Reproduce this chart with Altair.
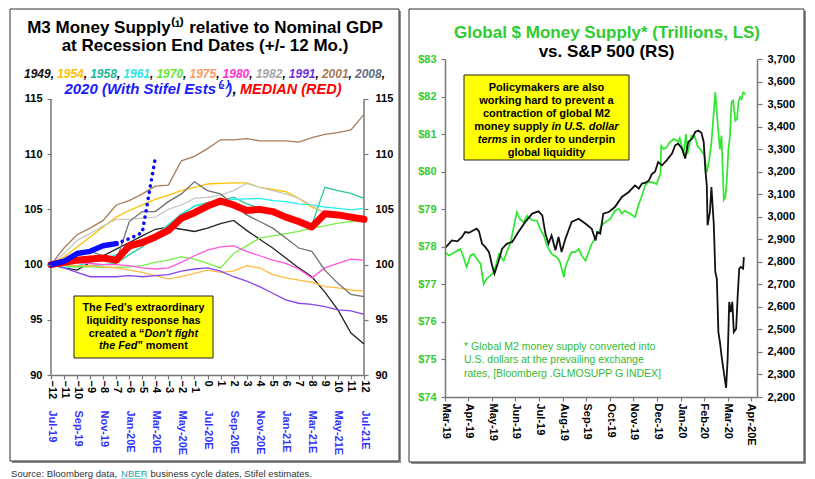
import json
import altair as alt
import pandas as pd

FONT = "Liberation Sans"

# ---------------- Left panel data ----------------
months = list(range(-12, 13))
years = ["1949", "1954", "1958", "1961", "1970", "1975", "1980", "1982", "1991", "2001", "2008"]
year_label_colors = ["#111111", "#ffc000", "#1fb896", "#2ee6e6", "#66e633", "#ff9966",
                     "#ff33cc", "#a6a6a6", "#7030e0", "#a57a55", "#5f6f85"]
line_colors = ["#222222", "#ffc000", "#2cc7a0", "#22eeee", "#77ee44", "#ffbb44",
               "#ff55dd", "#c8c8c8", "#8844ee", "#a87c5a", "#707070"]

v1949 = [100, 99.7, 99.5, 100.2, 100.8, 101.4, 102.0, 102.6, 103.2, 103.4, 103.2, 103.0, 103.3,
         103.7, 104.0, 103.1, 102.3, 101.5, 100.6, 99.7, 98.9, 97.5, 95.9, 93.8, 92.8]
v1954 = [100, 100.7, 101.6, 102.5, 103.4, 104.3, 104.9, 105.4, 105.9, 106.3, 106.7, 107.0, 107.3,
         107.35, 107.4, 107.4, 107.0, 106.8, 106.6, 106.0, 105.2, 104.7, 104.5, 104.4, 104.3]
v1958 = [100, 99.9, 99.8, 99.9, 100.0, 100.1, 100.9, 101.6, 102.6, 103.6, 104.5, 105.3, 105.6,
         105.8, 106.1, 105.5, 105.1, 104.8, 104.4, 104.0, 103.6, 107.0, 106.7, 106.45, 106.0]
v1961 = [100, 99.7, 99.9, 100.2, 100.5, 100.9, 101.3, 101.9, 102.7, 103.6, 104.6, 105.3, 105.6,
         105.8, 105.9, 105.95, 106.0, 105.8, 105.7, 105.5, 105.4, 105.2, 105.1, 104.95, 105.1]
v1970 = [100, 99.9, 99.8, 99.8, 99.75, 99.75, 99.8, 99.9, 100.2, 100.4, 100.7, 100.5, 100.1,
         99.7, 101.0, 101.7, 102.4, 102.6, 102.8, 103.0, 103.3, 103.5, 103.75, 103.9, 104.0]
v1975 = [100, 100.0, 99.9, 99.9, 99.8, 99.7, 99.5, 99.3, 99.0, 98.7, 98.9, 99.2, 99.5,
         99.3, 99.4, 99.9, 99.7, 99.1, 98.8, 98.6, 98.4, 98.0, 97.9, 97.7, 97.6]
v1980 = [100, 100.1, 100.2, 100.1, 100.0, 100.0, 99.9, 99.7, 99.6, 99.7, 100.2, 100.8, 101.3,
         101.6, 101.7, 101.2, 100.8, 100.4, 100.1, 99.6, 98.8, 99.7, 100.1, 100.5, 100.4]
v1982 = [100, 101.0, 102.2, 102.8, 103.5, 104.1, 104.1, 104.2, 104.3, 105.0, 105.4, 106.0, 106.1,
         106.3, 106.7, 107.35, 107.0, 106.7, 106.4, 106.0, 105.4, 104.6, 104.5, 104.4, 104.4]
v1991 = [100, 99.7, 99.3, 98.9, 98.9, 98.9, 99.0, 98.9, 99.0, 99.1, 99.4, 99.6, 99.7,
         99.4, 98.9, 98.5, 98.0, 97.4, 96.8, 96.5, 96.4, 96.2, 95.9, 95.8, 95.5]
v2001 = [100, 101.5, 102.7, 103.3, 104.0, 105.4, 105.8, 106.4, 107.1, 107.2, 109.4, 109.8, 110.5,
         111.3, 111.3, 111.4, 111.2, 111.2, 111.2, 111.1, 111.5, 111.8, 111.95, 112.2, 113.6]
v2008 = [100, 100.4, 100.9, 101.2, 100.8, 100.3, 103.9, 104.8, 104.8, 105.7, 106.4, 107.5, 106.7,
         106.4, 105.4, 104.5, 103.9, 103.3, 102.4, 101.5, 101.2, 99.5, 98.3, 97.3, 97.1]
median = [100, 100.2, 100.4, 100.5, 100.6, 100.4, 101.7, 102.0, 102.5, 103.1, 104.2, 104.7, 105.3,
          105.75, 105.4, 104.9, 105.0, 104.8, 104.3, 103.9, 103.4, 104.6, 104.5, 104.3, 104.1]
m2020_months = [-12, -11, -10, -9, -8, -7]
m2020_values = [100, 100.3, 101.0, 101.2, 101.7, 101.9]
m2020_est_months = [-7, -6, -5, -4]
m2020_est_values = [101.9, 102.35, 102.9, 109.7]
date_labels = ["Jul-19", "Sep-19", "Nov-19", "Jan-20E", "Mar-20E", "May-20E", "Jul-20E",
               "Sep-20E", "Nov-20E", "Jan-21E", "Mar-21E", "May-21E", "Jul-21E"]
y_ticks_left = [90, 95, 100, 105, 110, 115]
y_axis_span = [90, 115]

# ---------------- Right panel data ----------------
start_date = pd.Timestamp("2019-03-31")
sp_day = [0, 5, 9, 16, 22, 26, 31, 37, 41, 44, 48, 52, 57, 61, 64, 69, 74, 80, 87, 95, 104, 113,
          121, 126, 130, 134, 138, 143, 147, 151, 156, 160, 164, 173, 182, 190, 195, 197, 201, 205,
          212, 220, 229, 238, 246, 251, 255, 259, 264, 268, 272, 276, 281, 287, 294, 298, 302, 307,
          311, 315, 320, 324, 328, 332, 335, 337, 339, 340, 343, 345, 348, 350, 352, 354, 356, 358,
          361, 364, 366, 368, 370, 372, 374, 377, 379, 381, 383, 386, 387]
sp_val = [2861, 2880, 2895, 2891, 2910, 2932, 2929, 2940, 2947, 2935, 2880, 2866, 2843, 2784, 2747,
          2799, 2858, 2880, 2888, 2932, 2977, 3014, 3024, 3006, 2925, 2880, 2917, 2851, 2910, 2843,
          2903, 2940, 2977, 2991, 2969, 2947, 2895, 2932, 2925, 3014, 3021, 3043, 3088, 3110, 3139,
          3125, 3147, 3150, 3161, 3190, 3200, 3243, 3228, 3250, 3280, 3317, 3324, 3302, 3258, 3332,
          3346, 3376, 3383, 3373, 3332, 3213, 3139, 2962, 3021, 3132, 2969, 2755, 2725, 2488, 2444,
          2385, 2311, 2240, 2370, 2622, 2577, 2622, 2488, 2503, 2651, 2770, 2777, 2770, 2821]
m2_day = [0, 5, 9, 16, 20, 24, 28, 33, 37, 41, 46, 50, 54, 59, 63, 67, 70, 76, 80, 85, 89, 93, 97,
          102, 106, 113, 119, 123, 128, 132, 138, 145, 149, 154, 156, 160, 164, 169, 173, 177, 182,
          186, 190, 194, 199, 203, 207, 214, 220, 225, 229, 233, 240, 246, 251, 255, 259, 263, 268,
          274, 279, 280, 283, 287, 291, 296, 300, 302, 304, 309, 312, 314, 319, 323, 327, 332, 336,
          339, 342, 345, 348, 350, 352, 354, 356, 358, 361, 363, 365, 367, 369, 371, 373, 376, 378,
          380, 382, 384, 386, 389]
m2_val = [77.86, 77.77, 77.81, 77.90, 77.94, 77.72, 77.46, 77.77, 77.81, 77.68, 77.55, 77.01, 77.15,
          77.24, 77.32, 77.59, 77.81, 77.63, 77.86, 78.12, 78.52, 78.92, 78.74, 78.65, 78.83, 78.70,
          78.70, 78.48, 78.30, 78.03, 77.81, 77.72, 77.59, 77.19, 77.46, 77.68, 77.86, 77.86, 77.94,
          77.77, 77.63, 77.86, 78.08, 78.21, 78.39, 78.57, 78.65, 78.74, 78.96, 79.01, 78.88, 78.96,
          78.88, 78.79, 79.14, 79.36, 79.63, 79.72, 79.72, 79.67, 79.94, 80.69, 80.60, 80.65, 80.78,
          80.87, 80.83, 80.78, 80.89, 80.47, 81.00, 80.47, 80.96, 80.96, 80.69, 80.56, 80.43, 79.98,
          80.30, 80.78, 81.58, 82.11, 81.58, 81.05, 80.60, 80.96, 79.25, 79.32, 79.81, 80.60, 80.96,
          81.85, 81.89, 81.36, 81.40, 81.85, 81.98, 81.93, 82.11, 82.07]
sp_tick_labels = ["Mar-19", "Apr-19", "May-19", "Jun-19", "Jul-19", "Aug-19", "Sep-19", "Oct-19",
                  "Nov-19", "Dec-19", "Jan-20", "Feb-20", "Mar-20", "Apr-20E"]
month_ends = [(2019, 3, 31), (2019, 4, 30), (2019, 5, 31), (2019, 6, 30), (2019, 7, 31),
              (2019, 8, 31), (2019, 9, 30), (2019, 10, 31), (2019, 11, 30), (2019, 12, 31),
              (2020, 1, 31), (2020, 2, 29), (2020, 3, 31), (2020, 4, 30)]
m2_ticks = [74, 75, 76, 77, 78, 79, 80, 81, 82, 83]
sp_ticks = list(range(2200, 3701, 100))

# ---------------- helpers ----------------
one = pd.DataFrame({"k": [0]})


def txt(s, x, y, size=11, weight="bold", style="normal", color="#000000",
        align="center", baseline="alphabetic"):
    return alt.Chart(one).mark_text(
        text=s, font=FONT, fontSize=size, fontWeight=weight, fontStyle=style,
        color=color, align=align, baseline=baseline,
    ).encode(x=alt.value(x), y=alt.value(y))


def box(x1, x2, y1, y2, fill, stroke=None, sw=1):
    kw = dict(fill=fill)
    if stroke:
        kw.update(stroke=stroke, strokeWidth=sw)
    return alt.Chart(one).mark_rect(**kw).encode(
        x=alt.value(x1), x2=alt.value(x2), y=alt.value(y1), y2=alt.value(y2))


ax = dict(labelFont=FONT, labelFontWeight="bold", labelFontSize=11, labelColor="#000000",
          domainColor="#777777", tickColor="#777777", domainWidth=1.5, tickWidth=1.2,
          grid=False, title=None, zindex=1)

# ---------------- Left panel ----------------
W1, H1 = 313, 316
xs1 = alt.Scale(domain=[-12, 12], nice=False, zero=False)
ys1 = alt.Scale(domain=[90, 118.62], nice=False, zero=False)

rows = []
vals = [v1949, v1954, v1958, v1961, v1970, v1975, v1980, v1982, v1991, v2001, v2008]
for yr, vs in zip(years, vals):
    for m, v in zip(months, vs):
        rows.append({"year": yr, "month": m, "value": v})
df_years = pd.DataFrame(rows)
df_med = pd.DataFrame({"month": months, "value": median})
df_2020 = pd.DataFrame({"month": m2020_months, "value": m2020_values})
df_2020e = pd.DataFrame({"month": m2020_est_months, "value": m2020_est_values})
df_span = pd.DataFrame({"lo": [y_axis_span[0]], "hi": [y_axis_span[1]]})

x_num_axis = alt.Axis(values=months, labelAngle=90, labelAlign="left", labelBaseline="middle",
                      tickSize=4, labelPadding=1, orient="bottom", **ax)
ax_date = dict(ax)
ax_date["labelColor"] = "#3333ff"
x_date_axis = alt.Axis(values=list(range(-12, 13, 2)),
                       labelExpr=f"{json.dumps(date_labels)}[(datum.value + 12) / 2]",
                       labelAngle=90, labelAlign="left", labelBaseline="middle",
                       ticks=False, tickSize=0, domain=False, labelPadding=35,
                       orient="bottom", **ax_date)
y_left_axis = alt.Axis(values=y_ticks_left, tickSize=4, labelPadding=5, orient="left",
                       domain=False, **ax)
y_right_axis = alt.Axis(values=y_ticks_left, tickSize=4, labelPadding=7, orient="right",
                        domain=False, **ax)

thin = alt.Chart(df_years).mark_line(strokeWidth=1.3).encode(
    x=alt.X("month:Q", scale=xs1, axis=x_num_axis),
    y=alt.Y("value:Q", scale=ys1, axis=y_left_axis),
    color=alt.Color("year:N", scale=alt.Scale(domain=years, range=line_colors), legend=None),
    detail="year:N",
)
med = alt.Chart(df_med).mark_line(color="#ff0000", strokeWidth=7, strokeJoin="round",
                                   strokeCap="round").encode(
    x=alt.X("month:Q", scale=xs1, axis=x_date_axis),
    y=alt.Y("value:Q", scale=ys1, axis=y_right_axis),
)
act = alt.Chart(df_2020).mark_line(color="#0a0aff", strokeWidth=5.5, strokeJoin="round",
                                    strokeCap="round").encode(
    x=alt.X("month:Q", scale=xs1, axis=None),
    y=alt.Y("value:Q", scale=ys1, axis=None),
)
est = alt.Chart(df_2020e).mark_line(color="#0a0aff", strokeWidth=3.6, strokeCap="round",
                                     strokeDash=[0.1, 6.2]).encode(
    x=alt.X("month:Q", scale=xs1, axis=None),
    y=alt.Y("value:Q", scale=ys1, axis=None),
)
axis_line_l = alt.Chart(df_span).mark_rule(color="#777777", strokeWidth=1.5).encode(
    x=alt.value(0), y=alt.Y("lo:Q", scale=ys1, axis=None), y2="hi:Q")
axis_line_r = alt.Chart(df_span).mark_rule(color="#777777", strokeWidth=1.5).encode(
    x=alt.value(W1), y=alt.Y("lo:Q", scale=ys1, axis=None), y2="hi:Q")

left_layers = [
    box(-39, 350, -48, 404, "#8f8f8f"),
    box(-41, 348, -50, 402, "#ffffff", "#333333", 1),
    axis_line_l, axis_line_r,
    thin, med, act, est,
    box(23, 162, 237, 299, "#ffff00", "#222222", 1),
    txt("The Fed's extraordinary", 92.5, 249, size=10.8, baseline="middle"),
    txt("liquidity response has", 92.5, 262, size=10.8, baseline="middle"),
    txt("created a \u201c", 93.5, 274.5, size=10.8, align="right", baseline="middle"),
    txt("Don't fight", 93.5, 274.5, size=10.8, style="italic", align="left", baseline="middle"),
    txt("the Fed", 86.4, 287, size=10.8, style="italic", align="right", baseline="middle"),
    txt("\u201d moment", 86.4, 287, size=10.8, align="left", baseline="middle"),
    txt("M3 Money Supply\u207d\u00b9\u207e relative to Nominal GDP", 154, -26, size=17),
    txt("at Recession End Dates (+/- 12 Mo.)", 154, -8, size=17),
    txt("2020 (With Stifel Ests\u207d\u00b2\u207e)", 181, 35, size=15, style="italic",
        color="#1a1aff", align="right"),
    txt(",", 181.5, 35, size=15, style="italic", align="left"),
    txt("MEDIAN (RED)", 189, 35, size=14.5, style="italic", color="#ff0000", align="left"),
    txt("Source: Bloomberg data,", -40, 418, size=9.6, weight="normal", color="#333333",
        align="left"),
    txt("NBER", 70, 418, size=9.6, weight="normal", color="#2a9fb0", align="left"),
    txt("business cycle dates, Stifel estimates.", 99.5, 418, size=9.6, weight="normal",
        color="#333333", align="left"),
    alt.Chart(one).mark_rule(color="#2a9fb0", strokeWidth=0.8).encode(
        x=alt.value(70), x2=alt.value(96.5), y=alt.value(420)),
]
for i, (yr, col) in enumerate(zip(years, year_label_colors)):
    x0 = -27 + i * 33.1
    left_layers.append(txt(yr, x0, 19, size=12, style="italic", color=col, align="left"))
    left_layers.append(txt(",", x0 + 26.7, 19, size=12, style="italic", align="left"))

left = alt.layer(*left_layers).resolve_axis(x="independent", y="independent").properties(
    width=W1, height=H1)

# ---------------- Right panel ----------------
W2, H2 = 312, 338
df_sp = pd.DataFrame({"date": start_date + pd.to_timedelta(sp_day, unit="D"), "value": sp_val})
df_m2 = pd.DataFrame({"date": start_date + pd.to_timedelta(m2_day, unit="D"), "value": m2_val})
xs2 = alt.Scale(domain=[alt.DateTime(year=2019, month=3, date=31),
                        alt.DateTime(year=2020, month=5, date=8)])
x_time_axis = alt.Axis(
    values=[alt.DateTime(year=y, month=m, date=d) for (y, m, d) in month_ends],
    labelExpr=f"{json.dumps(sp_tick_labels)}[(year(datum.value) - 2019) * 12 + month(datum.value) - 2]",
    labelAngle=90, labelAlign="left", labelBaseline="middle", tickSize=4, labelPadding=2,
    orient="bottom", **ax)
ax_green = dict(ax)
ax_green["labelColor"] = "#33cc33"
y_m2_axis = alt.Axis(values=m2_ticks, labelExpr="'$' + datum.value", tickSize=4,
                     labelPadding=5, orient="left", **ax_green)
y_sp_axis = alt.Axis(values=sp_ticks, labelExpr="format(datum.value, ',')", tickSize=5,
                     labelPadding=5, orient="right", **ax)

green = alt.Chart(df_m2).mark_line(color="#2ee62e", strokeWidth=1.7).encode(
    x=alt.X("date:T", scale=xs2, axis=x_time_axis),
    y=alt.Y("value:Q", scale=alt.Scale(domain=[74, 83], nice=False, zero=False), axis=y_m2_axis),
)
black = alt.Chart(df_sp).mark_line(color="#111111", strokeWidth=1.8).encode(
    x=alt.X("date:T", scale=xs2, axis=None),
    y=alt.Y("value:Q", scale=alt.Scale(domain=[2200, 3700], nice=False, zero=False),
            axis=y_sp_axis),
)

right_layers = [
    box(-34, 361, -48, 405, "#8f8f8f"),
    box(-36, 359, -50, 403, "#ffffff", "#333333", 1),
    green, black,
    box(19, 184, 16, 101, "#ffff00", "#222222", 1),
    txt("Policymakers are also", 101.5, 28.5, size=11, baseline="middle"),
    txt("working hard to prevent a", 101.5, 41.5, size=11, baseline="middle"),
    txt("contraction of global M2", 101.5, 54.5, size=11, baseline="middle"),
    txt("money supply", 103.3, 67.5, size=11, align="right", baseline="middle"),
    txt("in U.S. dollar", 106.4, 67.5, size=11, style="italic", align="left", baseline="middle"),
    txt("terms", 62.7, 80.5, size=11, style="italic", align="right", baseline="middle"),
    txt("in order to underpin", 65.8, 80.5, size=11, align="left", baseline="middle"),
    txt("global liquidity", 101.5, 93.5, size=11, baseline="middle"),
    txt("* Global M2 money supply converted into", 19, 288, size=10.5, weight="normal",
        color="#33bb33", align="left", baseline="middle"),
    txt("U.S. dollars at the prevailing exchange", 19, 301.3, size=10.5, weight="normal",
        color="#33bb33", align="left", baseline="middle"),
    txt("rates, [Bloomberg .GLMOSUPP G INDEX]", 19, 314.6, size=10.5, weight="normal",
        color="#33bb33", align="left", baseline="middle"),
    txt("Global $ Money Supply* (Trillions, LS)", 162, -21, size=17, color="#2ecc2e"),
    txt("vs. S&P 500 (RS)", 161.5, -2, size=17),
]
right = alt.layer(*right_layers).resolve_scale(y="independent").resolve_axis(
    x="independent", y="independent").properties(width=W2, height=H2)

chart = alt.hconcat(left, right, spacing=7).properties(
    padding={"left": 1, "top": 0, "right": 0, "bottom": 0}
).configure(background="white", font=FONT).configure_view(stroke=None)

chart.save("out.html", embed_options={"renderer": "svg", "actions": False})
